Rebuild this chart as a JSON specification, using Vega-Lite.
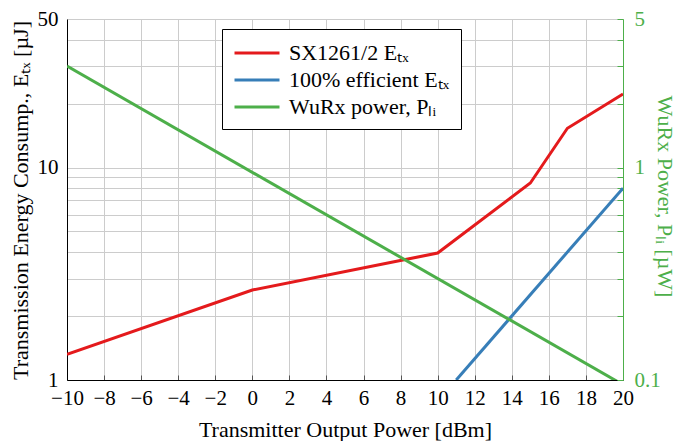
{
  "$schema": "https://vega.github.io/schema/vega-lite/v6.json",
  "width": 556,
  "height": 361,
  "autosize": {"type": "none"},
  "padding": {"left": 67, "top": 19, "right": 54, "bottom": 61},
  "background": "white",
  "config": {
    "font": "Liberation Serif",
    "view": {"stroke": null},
    "axis": {
      "labelFont": "Liberation Serif",
      "titleFont": "Liberation Serif",
      "labelFontSize": 21,
      "titleFontSize": 22,
      "labelColor": "black",
      "titleColor": "black",
      "titleFontWeight": "normal",
      "gridColor": "#cccccc",
      "gridWidth": 1
    },
    "legend": {
      "labelFont": "Liberation Serif",
      "labelFontSize": 22,
      "labelColor": "black",
      "labelLimit": 400
    }
  },
  "encoding": {
    "x": {
      "field": "p",
      "type": "quantitative",
      "scale": {"domain": [-10, 20], "nice": false, "zero": false},
      "axis": {
        "title": "Transmitter Output Power [dBm]",
        "values": [-10, -8, -6, -4, -2, 0, 2, 4, 6, 8, 10, 12, 14, 16, 18, 20],
        "grid": true,
        "ticks": true,
        "tickSize": -5,
        "tickColor": "#555555",
        "domainColor": "black",
        "domainWidth": 1,
        "labelPadding": 12,
        "titlePadding": 11,
        "labelFlush": false,
        "labelOverlap": false
      }
    }
  },
  "layer": [
    {
      "data": {
        "values": [
          {"series": "SX1261/2 Eₜₓ", "p": -10, "e": 1.32},
          {"series": "SX1261/2 Eₜₓ", "p": 0, "e": 2.65},
          {"series": "SX1261/2 Eₜₓ", "p": 10, "e": 3.96},
          {"series": "SX1261/2 Eₜₓ", "p": 15, "e": 8.45},
          {"series": "SX1261/2 Eₜₓ", "p": 17, "e": 15.3},
          {"series": "SX1261/2 Eₜₓ", "p": 20, "e": 22.2},
          {"series": "100% efficient Eₜₓ", "p": 11, "e": 1.0},
          {"series": "100% efficient Eₜₓ", "p": 20, "e": 8.0}
        ]
      },
      "mark": {"type": "line", "strokeWidth": 3, "clip": true},
      "encoding": {
        "y": {
          "field": "e",
          "type": "quantitative",
          "scale": {"type": "log", "domain": [1, 50], "nice": false},
          "axis": {
            "title": "Transmission Energy Consump., Eₜₓ [µJ]",
            "values": [1, 2, 3, 4, 5, 6, 7, 8, 9, 10, 20, 30, 40, 50],
            "format": "~g",
            "labelExpr": "datum.value == 1 || datum.value == 10 || datum.value == 50 ? datum.label : ''",
            "labelOverlap": false,
            "grid": true,
            "ticks": false,
            "domainColor": "black",
            "domainWidth": 1,
            "labelPadding": 9,
            "titleX": -47,
            "titleY": 181,
            "titleAngle": -90,
            "titleAlign": "center",
            "titleBaseline": "middle"
          }
        },
        "color": {
          "field": "series",
          "type": "nominal",
          "scale": {
            "domain": ["SX1261/2 Eₜₓ", "100% efficient Eₜₓ", "WuRx power, Pₗᵢ"],
            "range": ["#e41a1c", "#377eb8", "#4daf4a"]
          },
          "legend": {
            "title": null,
            "orient": "none",
            "legendX": 155,
            "legendY": 10,
            "strokeColor": "black",
            "fillColor": "white",
            "padding": 11,
            "symbolType": "M-2,0H2",
            "symbolStrokeWidth": 3,
            "symbolSize": 506,
            "symbolOffset": 11,
            "labelOffset": 19,
            "rowPadding": 3,
            "cornerRadius": 0
          }
        }
      }
    },
    {
      "data": {
        "values": [
          {"series": "WuRx power, Pₗᵢ", "p": -10, "w": 3.0},
          {"series": "WuRx power, Pₗᵢ", "p": 20, "w": 0.095}
        ]
      },
      "mark": {"type": "line", "strokeWidth": 3, "clip": true},
      "encoding": {
        "y": {
          "field": "w",
          "type": "quantitative",
          "scale": {"type": "log", "domain": [0.1, 5], "nice": false},
          "axis": {
            "orient": "right",
            "title": "WuRx Power, Pₗᵢ [µW]",
            "values": [0.1, 0.2, 0.3, 0.4, 0.5, 0.6, 0.7, 0.8, 0.9, 1, 2, 3, 4, 5],
            "format": "~g",
            "labelExpr": "datum.value == 0.1 || datum.value == 1 || datum.value == 5 ? datum.label : ''",
            "labelOverlap": false,
            "grid": false,
            "ticks": true,
            "tickSize": -6,
            "tickColor": "#4daf4a",
            "domainColor": "#4daf4a",
            "domainWidth": 1,
            "labelColor": "#4daf4a",
            "titleColor": "#4daf4a",
            "labelPadding": 17,
            "titleX": 41,
            "titleY": 177,
            "titleAngle": 90,
            "titleAlign": "center",
            "titleBaseline": "middle"
          }
        },
        "color": {"field": "series", "type": "nominal"}
      }
    }
  ],
  "resolve": {"scale": {"y": "independent"}}
}
